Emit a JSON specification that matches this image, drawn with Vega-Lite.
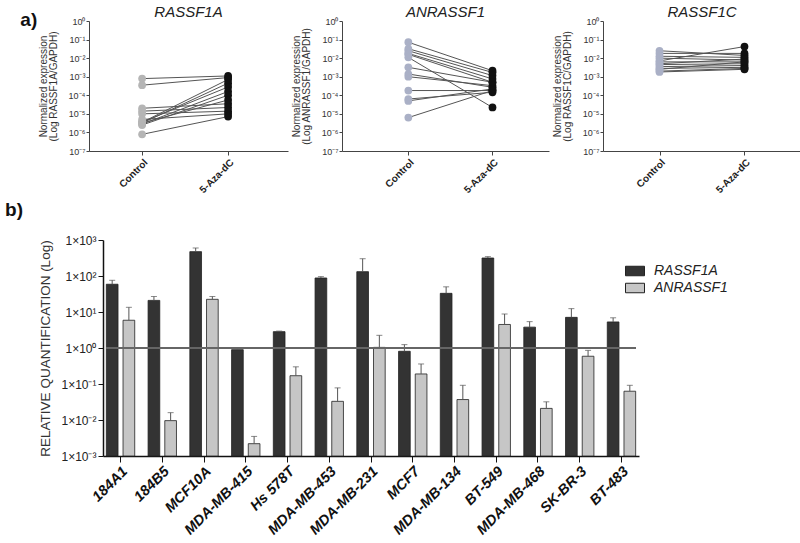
{
  "$schema": "https://vega.github.io/schema/vega-lite/v6.json",
  "padding": 5,
  "config": {
    "font": "Liberation Sans",
    "view": {"stroke": null},
    "axis": {"grid": false}
  },
  "datasets": {
    "pairs": [
      {"panel": "RASSF1A", "id": 1, "group": "Control", "value": 7.9e-4}, {"panel": "RASSF1A", "id": 1, "group": "5-Aza-dC", "value": 1.1e-3},
      {"panel": "RASSF1A", "id": 2, "group": "Control", "value": 3.5e-4}, {"panel": "RASSF1A", "id": 2, "group": "5-Aza-dC", "value": 9e-4},
      {"panel": "RASSF1A", "id": 3, "group": "Control", "value": 3.5e-6}, {"panel": "RASSF1A", "id": 3, "group": "5-Aza-dC", "value": 7.1e-4},
      {"panel": "RASSF1A", "id": 4, "group": "Control", "value": 3.2e-6}, {"panel": "RASSF1A", "id": 4, "group": "5-Aza-dC", "value": 4.5e-4},
      {"panel": "RASSF1A", "id": 5, "group": "Control", "value": 3.6e-6}, {"panel": "RASSF1A", "id": 5, "group": "5-Aza-dC", "value": 2.8e-4},
      {"panel": "RASSF1A", "id": 6, "group": "Control", "value": 2.8e-6}, {"panel": "RASSF1A", "id": 6, "group": "5-Aza-dC", "value": 1.6e-4},
      {"panel": "RASSF1A", "id": 7, "group": "Control", "value": 2.5e-6}, {"panel": "RASSF1A", "id": 7, "group": "5-Aza-dC", "value": 1e-4},
      {"panel": "RASSF1A", "id": 8, "group": "Control", "value": 3.2e-6}, {"panel": "RASSF1A", "id": 8, "group": "5-Aza-dC", "value": 5.6e-5},
      {"panel": "RASSF1A", "id": 9, "group": "Control", "value": 2e-5}, {"panel": "RASSF1A", "id": 9, "group": "5-Aza-dC", "value": 3.5e-5},
      {"panel": "RASSF1A", "id": 10, "group": "Control", "value": 1.4e-5}, {"panel": "RASSF1A", "id": 10, "group": "5-Aza-dC", "value": 2.2e-5},
      {"panel": "RASSF1A", "id": 11, "group": "Control", "value": 1e-5}, {"panel": "RASSF1A", "id": 11, "group": "5-Aza-dC", "value": 1.4e-5},
      {"panel": "RASSF1A", "id": 12, "group": "Control", "value": 5e-6}, {"panel": "RASSF1A", "id": 12, "group": "5-Aza-dC", "value": 1e-5},
      {"panel": "RASSF1A", "id": 13, "group": "Control", "value": 7.9e-7}, {"panel": "RASSF1A", "id": 13, "group": "5-Aza-dC", "value": 7.1e-6},
      {"panel": "ANRASSF1", "id": 1, "group": "Control", "value": 0.072}, {"panel": "ANRASSF1", "id": 1, "group": "5-Aza-dC", "value": 2.1e-3},
      {"panel": "ANRASSF1", "id": 2, "group": "Control", "value": 0.032}, {"panel": "ANRASSF1", "id": 2, "group": "5-Aza-dC", "value": 1.7e-3},
      {"panel": "ANRASSF1", "id": 3, "group": "Control", "value": 0.025}, {"panel": "ANRASSF1", "id": 3, "group": "5-Aza-dC", "value": 1.15e-3},
      {"panel": "ANRASSF1", "id": 4, "group": "Control", "value": 0.018}, {"panel": "ANRASSF1", "id": 4, "group": "5-Aza-dC", "value": 7.6e-4},
      {"panel": "ANRASSF1", "id": 5, "group": "Control", "value": 0.016}, {"panel": "ANRASSF1", "id": 5, "group": "5-Aza-dC", "value": 5e-4},
      {"panel": "ANRASSF1", "id": 6, "group": "Control", "value": 0.011}, {"panel": "ANRASSF1", "id": 6, "group": "5-Aza-dC", "value": 2.2e-5},
      {"panel": "ANRASSF1", "id": 7, "group": "Control", "value": 3.2e-3}, {"panel": "ANRASSF1", "id": 7, "group": "5-Aza-dC", "value": 5e-4},
      {"panel": "ANRASSF1", "id": 8, "group": "Control", "value": 1.4e-3}, {"panel": "ANRASSF1", "id": 8, "group": "5-Aza-dC", "value": 2.7e-4},
      {"panel": "ANRASSF1", "id": 9, "group": "Control", "value": 1e-3}, {"panel": "ANRASSF1", "id": 9, "group": "5-Aza-dC", "value": 3.3e-4},
      {"panel": "ANRASSF1", "id": 10, "group": "Control", "value": 1.8e-4}, {"panel": "ANRASSF1", "id": 10, "group": "5-Aza-dC", "value": 1.8e-4},
      {"panel": "ANRASSF1", "id": 11, "group": "Control", "value": 6.3e-5}, {"panel": "ANRASSF1", "id": 11, "group": "5-Aza-dC", "value": 1.45e-4},
      {"panel": "ANRASSF1", "id": 12, "group": "Control", "value": 5e-5}, {"panel": "ANRASSF1", "id": 12, "group": "5-Aza-dC", "value": 2.2e-4},
      {"panel": "ANRASSF1", "id": 13, "group": "Control", "value": 6.3e-6}, {"panel": "ANRASSF1", "id": 13, "group": "5-Aza-dC", "value": 1.8e-4},
      {"panel": "RASSF1C", "id": 1, "group": "Control", "value": 0.025}, {"panel": "RASSF1C", "id": 1, "group": "5-Aza-dC", "value": 0.014},
      {"panel": "RASSF1C", "id": 2, "group": "Control", "value": 0.018}, {"panel": "RASSF1C", "id": 2, "group": "5-Aza-dC", "value": 0.018},
      {"panel": "RASSF1C", "id": 3, "group": "Control", "value": 0.0126}, {"panel": "RASSF1C", "id": 3, "group": "5-Aza-dC", "value": 0.011},
      {"panel": "RASSF1C", "id": 4, "group": "Control", "value": 0.01}, {"panel": "RASSF1C", "id": 4, "group": "5-Aza-dC", "value": 0.0079},
      {"panel": "RASSF1C", "id": 5, "group": "Control", "value": 0.0071}, {"panel": "RASSF1C", "id": 5, "group": "5-Aza-dC", "value": 0.042},
      {"panel": "RASSF1C", "id": 6, "group": "Control", "value": 0.0063}, {"panel": "RASSF1C", "id": 6, "group": "5-Aza-dC", "value": 0.0063},
      {"panel": "RASSF1C", "id": 7, "group": "Control", "value": 0.005}, {"panel": "RASSF1C", "id": 7, "group": "5-Aza-dC", "value": 0.0089},
      {"panel": "RASSF1C", "id": 8, "group": "Control", "value": 0.0045}, {"panel": "RASSF1C", "id": 8, "group": "5-Aza-dC", "value": 0.005},
      {"panel": "RASSF1C", "id": 9, "group": "Control", "value": 0.0035}, {"panel": "RASSF1C", "id": 9, "group": "5-Aza-dC", "value": 0.004},
      {"panel": "RASSF1C", "id": 10, "group": "Control", "value": 0.0028}, {"panel": "RASSF1C", "id": 10, "group": "5-Aza-dC", "value": 0.0032},
      {"panel": "RASSF1C", "id": 11, "group": "Control", "value": 0.0025}, {"panel": "RASSF1C", "id": 11, "group": "5-Aza-dC", "value": 0.0063},
      {"panel": "RASSF1C", "id": 12, "group": "Control", "value": 0.002}, {"panel": "RASSF1C", "id": 12, "group": "5-Aza-dC", "value": 0.0028},
      {"panel": "RASSF1C", "id": 13, "group": "Control", "value": 0.0018}, {"panel": "RASSF1C", "id": 13, "group": "5-Aza-dC", "value": 0.0025}
    ],
    "bars": [
      {"cell": "184A1", "gene": "RASSF1A", "value": 59, "upper": 76}, {"cell": "184A1", "gene": "ANRASSF1", "value": 5.9, "upper": 13.5},
      {"cell": "184B5", "gene": "RASSF1A", "value": 21, "upper": 27}, {"cell": "184B5", "gene": "ANRASSF1", "value": 0.0096, "upper": 0.016},
      {"cell": "MCF10A", "gene": "RASSF1A", "value": 475, "upper": 600}, {"cell": "MCF10A", "gene": "ANRASSF1", "value": 22.5, "upper": 27},
      {"cell": "MDA-MB-415", "gene": "RASSF1A", "value": 0.9, "upper": 1.0}, {"cell": "MDA-MB-415", "gene": "ANRASSF1", "value": 0.0022, "upper": 0.0035},
      {"cell": "Hs 578T", "gene": "RASSF1A", "value": 2.85, "upper": 2.95}, {"cell": "Hs 578T", "gene": "ANRASSF1", "value": 0.17, "upper": 0.3},
      {"cell": "MDA-MB-453", "gene": "RASSF1A", "value": 88, "upper": 96}, {"cell": "MDA-MB-453", "gene": "ANRASSF1", "value": 0.033, "upper": 0.078},
      {"cell": "MDA-MB-231", "gene": "RASSF1A", "value": 132, "upper": 302}, {"cell": "MDA-MB-231", "gene": "ANRASSF1", "value": 1.04, "upper": 2.25},
      {"cell": "MCF7", "gene": "RASSF1A", "value": 0.81, "upper": 1.24}, {"cell": "MCF7", "gene": "ANRASSF1", "value": 0.19, "upper": 0.36},
      {"cell": "MDA-MB-134", "gene": "RASSF1A", "value": 33, "upper": 50}, {"cell": "MDA-MB-134", "gene": "ANRASSF1", "value": 0.037, "upper": 0.092},
      {"cell": "BT-549", "gene": "RASSF1A", "value": 316, "upper": 345}, {"cell": "BT-549", "gene": "ANRASSF1", "value": 4.5, "upper": 8.8},
      {"cell": "MDA-MB-468", "gene": "RASSF1A", "value": 3.8, "upper": 5.4}, {"cell": "MDA-MB-468", "gene": "ANRASSF1", "value": 0.021, "upper": 0.032},
      {"cell": "SK-BR-3", "gene": "RASSF1A", "value": 7.1, "upper": 12.4}, {"cell": "SK-BR-3", "gene": "ANRASSF1", "value": 0.59, "upper": 0.86},
      {"cell": "BT-483", "gene": "RASSF1A", "value": 5.3, "upper": 6.9}, {"cell": "BT-483", "gene": "ANRASSF1", "value": 0.063, "upper": 0.092}
    ]
  },
  "spacing": 6,
  "align": "none",
  "vconcat": [
    {
      "title": {"text": "a)", "orient": "left", "anchor": "end", "angle": 0, "baseline": "top", "fontSize": 19, "fontWeight": "bold", "color": "#111", "offset": -16, "dy": 6},
      "spacing": 3,
      "resolve": {"scale": {"color": "independent"}},
      "hconcat": [
        {
          "width": 199, "height": 130,
          "data": {"name": "pairs"},
          "transform": [{"filter": "datum.panel === 'RASSF1A'"}],
          "title": {"text": "RASSF1A", "fontStyle": "italic", "fontSize": 15, "fontWeight": "normal", "color": "#222", "offset": -3},
          "encoding": {
            "x": {"field": "group", "type": "nominal", "sort": ["Control", "5-Aza-dC"], "scale": {"type": "point", "padding": 0.657, "align": 0.47},
              "axis": {"title": null, "labelAngle": -45, "labelFontWeight": "bold", "labelFontSize": 10, "labelColor": "#222", "tickSize": 4, "domainColor": "#444", "tickColor": "#444"}},
            "y": {"field": "value", "type": "quantitative", "scale": {"type": "log", "domain": [1e-7, 1], "nice": false},
              "axis": {"title": ["Normalized expression", "(Log RASSF1A/GAPDH)"], "titleFontSize": 10, "titleFontWeight": "normal", "titleColor": "#333", "titleLineHeight": 10, "titlePadding": 10,
                "values": [1, 0.1, 0.01, 0.001, 0.0001, 0.00001, 0.000001, 0.0000001],
                "labelExpr": "'10' + ['⁰','⁻¹','⁻²','⁻³','⁻⁴','⁻⁵','⁻⁶','⁻⁷'][round(-log(datum.value)/LN10)]",
                "labelFontSize": 9, "labelPadding": 1, "labelColor": "#333", "tickSize": 3, "domainColor": "#444", "tickColor": "#444"}}
          },
          "layer": [
            {"mark": {"type": "line", "color": "#555", "strokeWidth": 1}, "encoding": {"detail": {"field": "id"}}},
            {"mark": {"type": "circle", "size": 60, "opacity": 1}, "encoding": {"color": {"field": "group", "type": "nominal", "scale": {"domain": ["Control", "5-Aza-dC"], "range": ["#b5b5b5", "#111111"]}, "legend": null}}}
          ]
        },
        {
          "width": 207, "height": 130,
          "data": {"name": "pairs"},
          "transform": [{"filter": "datum.panel === 'ANRASSF1'"}],
          "title": {"text": "ANRASSF1", "fontStyle": "italic", "fontSize": 15, "fontWeight": "normal", "color": "#222", "offset": -3},
          "encoding": {
            "x": {"field": "group", "type": "nominal", "sort": ["Control", "5-Aza-dC"], "scale": {"type": "point", "padding": 0.73, "align": 0.54},
              "axis": {"title": null, "labelAngle": -45, "labelFontWeight": "bold", "labelFontSize": 10, "labelColor": "#222", "tickSize": 4, "domainColor": "#444", "tickColor": "#444"}},
            "y": {"field": "value", "type": "quantitative", "scale": {"type": "log", "domain": [1e-7, 1], "nice": false},
              "axis": {"title": ["Normalized expression", "(Log ANRASSF1/GAPDH)"], "titleFontSize": 10, "titleFontWeight": "normal", "titleColor": "#333", "titleLineHeight": 10, "titlePadding": 10,
                "values": [1, 0.1, 0.01, 0.001, 0.0001, 0.00001, 0.000001, 0.0000001],
                "labelExpr": "'10' + ['⁰','⁻¹','⁻²','⁻³','⁻⁴','⁻⁵','⁻⁶','⁻⁷'][round(-log(datum.value)/LN10)]",
                "labelFontSize": 9, "labelPadding": 1, "labelColor": "#333", "tickSize": 3, "domainColor": "#444", "tickColor": "#444"}}
          },
          "layer": [
            {"mark": {"type": "line", "color": "#555", "strokeWidth": 1}, "encoding": {"detail": {"field": "id"}}},
            {"mark": {"type": "circle", "size": 60, "opacity": 1}, "encoding": {"color": {"field": "group", "type": "nominal", "scale": {"domain": ["Control", "5-Aza-dC"], "range": ["#aab0c6", "#111111"]}, "legend": null}}}
          ]
        },
        {
          "width": 198, "height": 130,
          "data": {"name": "pairs"},
          "transform": [{"filter": "datum.panel === 'RASSF1C'"}],
          "title": {"text": "RASSF1C", "fontStyle": "italic", "fontSize": 15, "fontWeight": "normal", "color": "#222", "offset": -3},
          "encoding": {
            "x": {"field": "group", "type": "nominal", "sort": ["Control", "5-Aza-dC"], "scale": {"type": "point", "padding": 0.665, "align": 0.5},
              "axis": {"title": null, "labelAngle": -45, "labelFontWeight": "bold", "labelFontSize": 10, "labelColor": "#222", "tickSize": 4, "domainColor": "#444", "tickColor": "#444"}},
            "y": {"field": "value", "type": "quantitative", "scale": {"type": "log", "domain": [1e-7, 1], "nice": false},
              "axis": {"title": ["Normalized expression", "(Log RASSF1C/GAPDH)"], "titleFontSize": 10, "titleFontWeight": "normal", "titleColor": "#333", "titleLineHeight": 10, "titlePadding": 10,
                "values": [1, 0.1, 0.01, 0.001, 0.0001, 0.00001, 0.000001, 0.0000001],
                "labelExpr": "'10' + ['⁰','⁻¹','⁻²','⁻³','⁻⁴','⁻⁵','⁻⁶','⁻⁷'][round(-log(datum.value)/LN10)]",
                "labelFontSize": 9, "labelPadding": 1, "labelColor": "#333", "tickSize": 3, "domainColor": "#444", "tickColor": "#444"}}
          },
          "layer": [
            {"mark": {"type": "line", "color": "#555", "strokeWidth": 1}, "encoding": {"detail": {"field": "id"}}},
            {"mark": {"type": "circle", "size": 60, "opacity": 1}, "encoding": {"color": {"field": "group", "type": "nominal", "scale": {"domain": ["Control", "5-Aza-dC"], "range": ["#aab0c6", "#111111"]}, "legend": null}}}
          ]
        }
      ]
    },
    {
      "width": 550, "height": 216,
      "data": {"name": "bars"},
      "title": {"text": "b)", "orient": "left", "anchor": "end", "angle": 0, "baseline": "bottom", "fontSize": 19, "fontWeight": "bold", "color": "#111", "offset": -2, "dy": -14},
      "layer": [
        {
          "mark": {"type": "bar", "stroke": "#222", "strokeWidth": 0.8},
          "encoding": {
            "x": {"field": "cell", "type": "nominal", "sort": null, "scale": {"range": [14, 550], "paddingInner": 0.32, "paddingOuter": 0.08},
              "axis": {"title": null, "labelAngle": -45, "labelFontSize": 14.5, "labelFontWeight": "bold", "labelFontStyle": "italic", "labelColor": "#111", "tickSize": 6, "domainColor": "#111", "domainWidth": 1.5, "tickColor": "#111", "labelPadding": 2}},
            "xOffset": {"field": "gene", "type": "nominal", "sort": ["RASSF1A", "ANRASSF1"], "scale": {"paddingInner": 0.3}},
            "y": {"field": "value", "type": "quantitative", "stack": null, "scale": {"type": "log", "domain": [0.001, 1000], "nice": false},
              "axis": {"title": "RELATIVE QUANTIFICATION (Log)", "offset": -14, "titleFontSize": 13.5, "titleFontWeight": "normal", "titleColor": "#333", "titlePadding": 8,
                "values": [1000, 100, 10, 1, 0.1, 0.01, 0.001],
                "labelExpr": "'1×10' + ['⁻³','⁻²','⁻¹','⁰','¹','²','³'][round(log(datum.value)/LN10)+3]",
                "labelFontSize": 12, "labelColor": "#222", "tickSize": 5, "domainColor": "#111", "domainWidth": 1.5, "tickColor": "#111"}},
            "color": {"field": "gene", "type": "nominal", "sort": ["RASSF1A", "ANRASSF1"], "scale": {"domain": ["RASSF1A", "ANRASSF1"], "range": ["#333333", "#c6c6c6"]},
              "legend": {"title": null, "orient": "none", "legendX": 536, "legendY": 240, "symbolType": "M-1,-0.5H1V0.5H-1Z", "symbolSize": 361, "symbolStrokeColor": "#222", "symbolStrokeWidth": 1, "symbolOpacity": 1, "labelFontSize": 14, "labelFontStyle": "italic", "labelColor": "#222", "labelOffset": 9, "rowPadding": 0}}
          }
        },
        {
          "mark": {"type": "rule", "color": "#555", "strokeWidth": 1},
          "encoding": {
            "x": {"field": "cell", "type": "nominal", "sort": null},
            "xOffset": {"field": "gene", "type": "nominal", "sort": ["RASSF1A", "ANRASSF1"]},
            "y": {"field": "value", "type": "quantitative"},
            "y2": {"field": "upper"}
          }
        },
        {
          "mark": {"type": "tick", "color": "#555", "thickness": 1, "size": 6},
          "encoding": {
            "x": {"field": "cell", "type": "nominal", "sort": null},
            "xOffset": {"field": "gene", "type": "nominal", "sort": ["RASSF1A", "ANRASSF1"]},
            "y": {"field": "upper", "type": "quantitative"}
          }
        },
        {
          "mark": {"type": "rule", "color": "#666", "strokeWidth": 1},
          "encoding": {
            "x": {"datum": "184A1", "type": "nominal", "bandPosition": 0},
            "x2": {"datum": "BT-483", "bandPosition": 1},
            "y": {"datum": 1, "type": "quantitative"}
          }
        }
      ]
    }
  ]
}
